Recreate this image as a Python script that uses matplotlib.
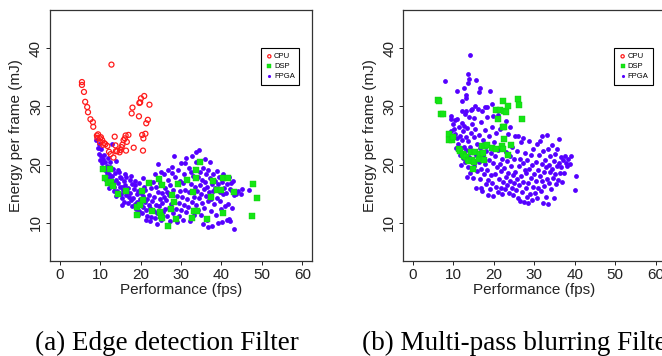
import numpy as np
import matplotlib
matplotlib.use('Agg')
import matplotlib.pyplot as plt

# ---- data (fps, mJ) ----
cpu_a = [(5.5,34.2),(5.5,33.7),(6.0,32.5),(6.3,30.8),(6.8,29.9),(7.0,29.0),(7.6,27.8),
         (8.2,27.3),(8.3,26.5),(9.2,25.0),(9.5,25.2),(9.3,24.6),(10.0,24.5),(10.2,24.7),
         (10.0,23.8),(10.5,24.2),(11.0,23.7),(11.3,23.5),(11.8,23.2),(12.2,22.2),(12.8,37.2),
         (13.3,21.2),(13.6,24.8),(13.9,22.3),(13.8,23.3),(14.2,22.3),(14.8,22.1),(15.0,22.5),
         (15.3,23.0),(15.5,23.4),(15.8,24.2),(16.1,24.5),(16.3,25.0),(16.4,22.4),(16.6,23.9),
         (17.0,25.1),(17.8,28.8),(18.0,29.8),(18.3,22.9),(19.6,28.3),(19.7,30.6),(19.9,30.7),
         (20.1,31.4),(20.4,25.1),(20.6,22.4),(20.7,24.5),(20.9,31.8),(21.2,25.3),(21.4,27.1),
         (21.8,27.7),(22.2,30.3),(12.6,21.8),(10.7,23.4)]

dsp_a = [(10.7,19.2),(11.2,17.6),(12.0,16.8),(12.5,19.3),(12.8,17.0),(13.3,16.3),(14.5,14.9),
         (16.5,15.5),(19.0,12.7),(19.2,11.3),(19.8,13.1),(20.3,15.5),(20.7,13.9),(22.0,16.9),
         (22.8,12.0),(24.5,17.5),(24.7,11.8),(25.0,11.2),(25.2,16.4),(25.4,10.8),(26.7,9.5),
         (27.5,12.4),(27.7,14.7),(28.3,13.5),(28.7,10.7),(29.3,16.6),(31.6,17.4),(32.8,10.8),
         (33.0,15.2),(33.2,12.0),(33.7,19.0),(33.8,17.6),(34.0,12.0),(34.8,20.5),(36.4,10.7),
         (37.5,14.5),(37.8,17.1),(39.0,15.7),(40.0,15.6),(40.3,11.6),(40.3,17.7),(41.7,17.6),
         (43.2,15.3),(47.5,11.1),(47.7,16.7),(48.8,14.2)]

fpga_a = [(9.0,24.2),(9.4,22.9),(9.8,23.5),(10.1,22.6),(10.3,21.5),(10.7,20.9),(10.5,20.2),
          (11.0,21.7),(11.3,20.4),(11.6,19.7),(11.1,19.0),(11.8,18.6),(11.5,17.3),(11.9,21.2),
          (10.0,20.8),(9.6,21.9),
          (12.1,18.4),(12.3,17.6),(12.5,19.6),(12.7,16.6),(12.9,18.1),(13.1,17.0),(13.3,19.2),
          (13.5,16.2),(13.6,18.5),(13.8,20.6),(14.0,17.4),(14.1,15.5),(14.3,16.8),(14.4,19.1),
          (14.6,14.9),(14.8,17.9),(14.9,16.1),(12.4,20.4),(13.0,23.6),(13.9,14.6),(12.2,15.9),
          (13.4,15.4),(14.7,18.7),(12.0,19.3),
          (15.1,15.0),(15.2,17.6),(15.4,16.2),(15.5,14.2),(15.7,15.6),(15.9,17.1),(16.0,13.6),
          (16.2,16.5),(16.4,14.8),(16.5,17.8),(16.7,15.3),(16.9,13.3),(17.0,16.0),(17.2,14.5),
          (17.3,17.4),(17.5,15.1),(17.7,13.9),(17.8,16.6),(18.0,12.9),(15.3,13.1),(16.1,18.3),
          (17.6,18.0),
          (18.2,14.3),(18.4,15.8),(18.5,13.2),(18.7,16.4),(18.9,12.4),(19.0,14.9),(19.2,13.6),
          (19.4,15.5),(19.5,12.0),(19.7,16.9),(19.9,14.1),(20.0,13.0),(20.2,15.1),(20.4,11.6),
          (20.5,14.6),(20.7,12.7),(20.9,16.2),(21.0,13.5),(21.2,15.6),(21.4,12.1),(21.5,14.0),
          (21.7,11.2),(21.8,16.8),(22.0,13.1),(21.3,10.5),(19.3,11.3),(18.6,17.2),(20.6,17.6),
          (22.2,14.8),(22.4,12.5),(22.5,15.9),(22.7,11.0),(22.9,13.7),(23.0,17.0),(23.2,12.0),
          (23.4,14.4),(23.5,10.8),(23.7,16.2),(23.9,13.1),(24.0,11.6),(24.2,15.3),(24.3,20.1),
          (24.5,12.8),(24.7,14.1),(24.8,16.8),(25.0,10.4),(25.2,13.4),(25.3,15.1),(25.5,11.8),
          (25.7,18.4),(25.8,14.5),(26.0,12.3),(26.1,16.0),(22.3,10.3),(23.6,18.3),(25.1,18.7),
          (24.1,9.8),
          (26.3,13.9),(26.5,11.1),(26.6,15.3),(26.8,17.3),(27.0,12.6),(27.1,14.8),(27.3,10.3),
          (27.4,16.4),(27.6,13.2),(27.8,19.5),(27.9,11.7),(28.1,15.6),(28.2,21.5),(28.3,13.8),
          (28.5,17.9),(28.6,10.8),(28.8,12.4),(28.9,16.6),(29.1,14.6),(29.2,19.0),(29.4,11.2),
          (29.5,13.4),(29.7,17.2),(29.8,15.4),(30.0,20.2),(30.0,12.1),(26.9,19.0),(29.0,10.1),
          (27.7,18.6),
          (30.2,14.5),(30.4,16.8),(30.5,10.5),(30.7,13.1),(30.8,18.4),(31.0,15.6),(31.2,11.9),
          (31.3,21.1),(31.5,14.0),(31.6,17.4),(31.8,12.7),(32.0,19.4),(32.1,15.2),(32.3,10.2),
          (32.4,16.6),(32.6,13.5),(32.8,21.4),(32.9,18.0),(33.1,14.5),(33.2,11.4),(33.4,16.2),
          (33.5,19.1),(33.7,13.0),(33.8,22.2),(34.0,15.5),(34.1,17.8),(34.2,12.2),(31.1,20.3),
          (32.5,18.7),(33.6,20.5),
          (34.4,22.5),(34.5,14.3),(34.6,18.8),(34.8,16.5),(34.9,11.3),(35.0,15.0),(35.2,17.3),
          (35.3,13.4),(35.5,19.4),(35.6,15.8),(35.8,12.6),(35.9,17.0),(36.1,14.6),(36.2,18.4),
          (36.4,10.4),(36.5,16.2),(36.7,13.7),(36.8,19.0),(37.0,15.2),(37.1,17.6),(37.3,12.0),
          (37.4,14.0),(37.6,16.7),(37.7,9.5),(37.9,18.3),(38.0,15.5),(35.4,9.8),(36.0,21.0),
          (37.2,20.4),
          (38.2,13.2),(38.3,17.2),(38.5,15.9),(38.6,11.3),(38.8,18.9),(38.9,14.3),(39.1,16.6),
          (39.2,10.0),(39.4,17.9),(39.6,13.8),(39.7,15.3),(39.9,12.3),(40.1,17.0),(40.2,10.1),
          (40.4,14.9),(40.5,18.3),(40.7,16.0),(40.9,12.8),(41.0,17.7),(41.2,15.1),(41.4,10.5),
          (41.5,16.6),(41.7,13.2),(41.9,17.9),(42.0,15.8),(42.2,10.3),(42.3,16.9),(42.5,12.5),
          (42.7,15.5),(43.2,8.9),(42.9,17.2),(43.1,14.8),(41.8,10.6),(36.7,9.3),
          (43.6,15.0),(44.9,15.0),(45.1,15.8),(46.8,15.7),(44.2,15.4)]

cpu_b = []

dsp_b = [(6.3,31.1),(6.4,30.9),(7.0,28.7),(7.4,28.7),(8.9,25.2),(9.0,24.3),(9.6,24.3),
         (9.8,24.8),(11.3,22.6),(11.6,22.4),(12.3,21.8),(12.6,21.4),(13.0,21.3),(13.5,20.8),
         (13.8,20.6),(14.3,22.1),(14.5,20.7),(14.8,19.3),(15.0,20.4),(15.4,22.2),(16.3,21.0),
         (16.5,21.8),(17.0,23.2),(17.2,22.0),(17.6,20.8),(17.8,23.2),(18.3,23.3),(19.5,22.9),
         (20.5,29.4),(20.6,22.7),(21.0,27.8),(21.4,29.4),(22.0,23.2),(22.2,31.0),(22.3,26.4),
         (22.3,22.7),(22.6,29.2),(22.6,26.4),(22.6,24.4),(23.0,29.1),(23.4,21.7),(23.6,30.1),
         (24.2,23.4),(25.9,31.3),(26.2,30.2),(26.9,27.9)]

fpga_b = [(14.0,38.9),(8.0,34.3),(13.5,35.5),(13.8,34.8),(15.7,34.6),(13.6,34.1),(10.9,32.6),
          (12.5,33.2),(16.5,33.2),(16.4,32.5),(19.0,32.6),(13.2,31.9),(13.0,31.4),(12.2,31.0),
          (15.3,30.0),(14.6,29.6),(17.8,29.9),(18.4,29.9),(19.6,30.4),(9.3,28.3),(9.3,27.8),
          (10.3,27.6),(13.0,29.3),
          (9.8,26.9),(10.2,26.1),(10.5,25.3),(10.8,24.6),(11.0,27.9),(11.2,23.6),(11.4,26.4),
          (11.6,25.0),(11.8,22.8),(12.0,27.2),(12.1,24.2),(12.3,21.2),(12.4,25.8),(12.6,23.1),
          (12.8,28.7),(12.9,20.5),(13.0,24.8),(10.6,22.9),(11.5,21.6),(12.2,29.3),(9.5,25.8),
          (11.9,20.0),(12.7,26.7),
          (13.2,22.5),(13.3,26.3),(13.5,19.6),(13.6,24.1),(13.8,21.3),(13.9,28.1),(14.0,23.0),
          (14.2,18.5),(14.3,25.4),(14.5,20.8),(14.6,27.0),(14.8,22.4),(14.9,17.6),(15.0,24.7),
          (15.2,19.8),(15.3,26.2),(15.5,21.6),(15.6,16.0),(15.8,23.5),(15.9,18.9),(16.0,29.5),
          (14.4,29.4),(13.4,17.8),(15.1,28.0),
          (16.2,20.4),(16.3,25.1),(16.5,17.5),(16.6,22.8),(16.8,19.3),(16.9,27.4),(17.1,15.4),
          (17.2,21.4),(17.4,24.2),(17.5,18.3),(17.7,20.1),(17.8,26.0),(18.0,16.7),(18.1,22.3),
          (18.3,19.0),(18.4,28.2),(18.6,17.4),(18.7,24.9),(18.9,20.7),(19.0,15.8),(19.2,22.0),
          (19.3,18.2),(19.5,26.4),(19.6,16.9),(19.8,20.2),(19.9,14.6),(20.0,23.9),(16.7,15.9),
          (18.5,14.8),(17.0,29.2),(19.7,28.4),
          (20.2,18.4),(20.3,21.4),(20.5,16.2),(20.6,25.4),(20.8,19.5),(20.9,15.2),(21.1,22.5),
          (21.2,17.5),(21.4,20.1),(21.5,26.2),(21.7,16.0),(21.8,18.9),(22.0,14.9),(22.1,21.0),
          (22.3,17.0),(22.4,24.6),(22.6,19.4),(22.7,15.8),(22.9,22.1),(23.0,17.9),(23.2,20.6),
          (23.3,16.5),(23.5,25.2),(23.6,18.6),(23.8,15.1),(23.9,21.5),(24.1,17.2),(24.2,19.8),
          (24.4,16.0),(24.5,23.0),(24.7,18.2),(24.8,14.7),(25.0,20.9),(25.1,16.8),(21.0,28.5),
          (24.0,26.4),(25.2,25.0),(23.1,27.5),
          (25.3,18.8),(25.5,15.6),(25.6,22.3),(25.8,17.5),(25.9,14.2),(26.1,19.7),(26.2,16.4),
          (26.4,21.0),(26.5,13.8),(26.7,18.1),(26.8,23.9),(27.0,15.3),(27.1,20.2),(27.3,17.0),
          (27.4,13.5),(27.6,19.0),(27.7,22.0),(27.9,15.9),(28.0,18.5),(28.2,14.5),(28.3,20.8),
          (28.5,16.8),(28.6,24.0),(28.8,19.3),(28.9,15.0),(29.1,21.6),(29.2,17.7),(29.4,13.9),
          (29.5,19.9),(29.7,16.2),(29.8,22.7),(30.0,18.4),(26.0,25.0),(27.2,24.6),(28.4,13.3),
          (30.1,15.1),(30.3,20.5),(30.4,17.2),(30.6,23.6),(30.7,14.2),(30.9,19.0),(31.0,16.0),
          (31.2,21.6),(31.3,18.0),(31.5,24.0),(31.6,15.4),(31.8,20.1),(31.9,17.1),(32.1,13.3),
          (32.2,22.3),(32.4,18.8),(32.5,16.3),(32.7,20.8),(32.8,14.5),(33.0,19.5),(33.1,17.5),
          (33.3,22.7),(33.4,13.2),(33.6,20.0),(33.7,16.8),(33.9,18.7),(34.0,21.5),(34.2,15.8),
          (34.3,19.2),(34.5,23.3),(34.6,17.6),(34.8,20.6),(34.9,14.2),(35.1,18.4),(35.2,21.8),
          (35.4,16.6),(35.5,19.7),(35.7,22.6),(35.8,17.3),(36.0,24.4),(36.1,20.2),(32.0,25.0),
          (33.2,25.1),
          (36.3,18.6),(36.5,21.3),(36.7,19.5),(37.0,20.8),(37.3,18.5),(37.6,21.4),(38.0,19.7),
          (38.4,20.9),(38.8,20.1),(39.0,21.4),(40.2,18.1),(40.1,15.7),(37.8,20.3),(36.9,17.0)]

panels = [('(a) Edge detection Filter', cpu_a, dsp_a, fpga_a),
          ('(b) Multi-pass blurring Filter', cpu_b, dsp_b, fpga_b)]

x_ticks = [0, 10, 20, 30, 40, 50, 60]
y_ticks = [10, 20, 30, 40]

RED = '#ff1a1a'
GREEN = '#14e614'
PURPLE = '#5500ff'

plt.rcParams['font.family'] = ['Liberation Sans', 'DejaVu Sans']

W, H = 662, 356
fig = plt.figure(figsize=(W / 100, H / 100), dpi=100)

ax_left = [50, 403.3]
for i, (caption, cpu, dsp, fpga) in enumerate(panels):
    ax = fig.add_axes([ax_left[i] / W, 1 - 261 / H, 262 / W, 251 / H])

    f = np.array(fpga)
    d = np.array(dsp)
    ax.scatter(f[:, 0], f[:, 1], s=12, marker='o', color=PURPLE, linewidths=0, label='FPGA', zorder=2)
    ax.scatter(d[:, 0], d[:, 1], s=15, marker='s', color=GREEN, edgecolors='#10c810',
               linewidths=0.3, label='DSP', zorder=3)
    if len(cpu):
        c = np.array(cpu)
        ax.scatter(c[:, 0], c[:, 1], s=13, marker='o', facecolors='none', edgecolors=RED,
                   linewidths=0.9, label='CPU', zorder=4)
    else:
        ax.scatter([], [], s=13, marker='o', facecolors='none', edgecolors=RED,
                   linewidths=0.9, label='CPU')

    ax.set_xlim(-2.4, 62.4)
    ax.set_ylim(3.4, 46.6)
    ax.set_xticks(x_ticks)
    ax.set_yticks(y_ticks)
    ax.tick_params(direction='out', length=3, width=0.7, labelsize=11, pad=2, colors='#222222')
    plt.setp(ax.get_yticklabels(), rotation=90, va='center')
    for sp in ax.spines.values():
        sp.set_linewidth(0.9)
        sp.set_color('#333333')
    ax.set_xlabel('Performance (fps)', fontsize=11, labelpad=1, color='#222222')
    ax.set_ylabel('Energy per frame (mJ)', fontsize=11, labelpad=4, color='#222222')

    h, l = ax.get_legend_handles_labels()
    order = [l.index('CPU'), l.index('DSP'), l.index('FPGA')]
    leg = ax.legend([h[k] for k in order], [l[k] for k in order],
                    loc='upper left', bbox_to_anchor=(0.805, 0.847), fontsize=5.5,
                    frameon=True, fancybox=False, edgecolor='black', framealpha=1,
                    borderpad=0.6, handletextpad=0.1, handlelength=1.0,
                    labelspacing=0.35, borderaxespad=0, markerscale=0.65)
    leg.get_frame().set_linewidth(0.8)

    if i == 0:
        fig.text(167 / W, 1 - 343 / H, caption, ha='center', va='center',
                 family='Liberation Serif', fontsize=19.5)
    else:
        fig.text(362 / W, 1 - 343 / H, caption, ha='left', va='center',
                 family='Liberation Serif', fontsize=19.5)

fig.savefig('out.png', dpi=100)
